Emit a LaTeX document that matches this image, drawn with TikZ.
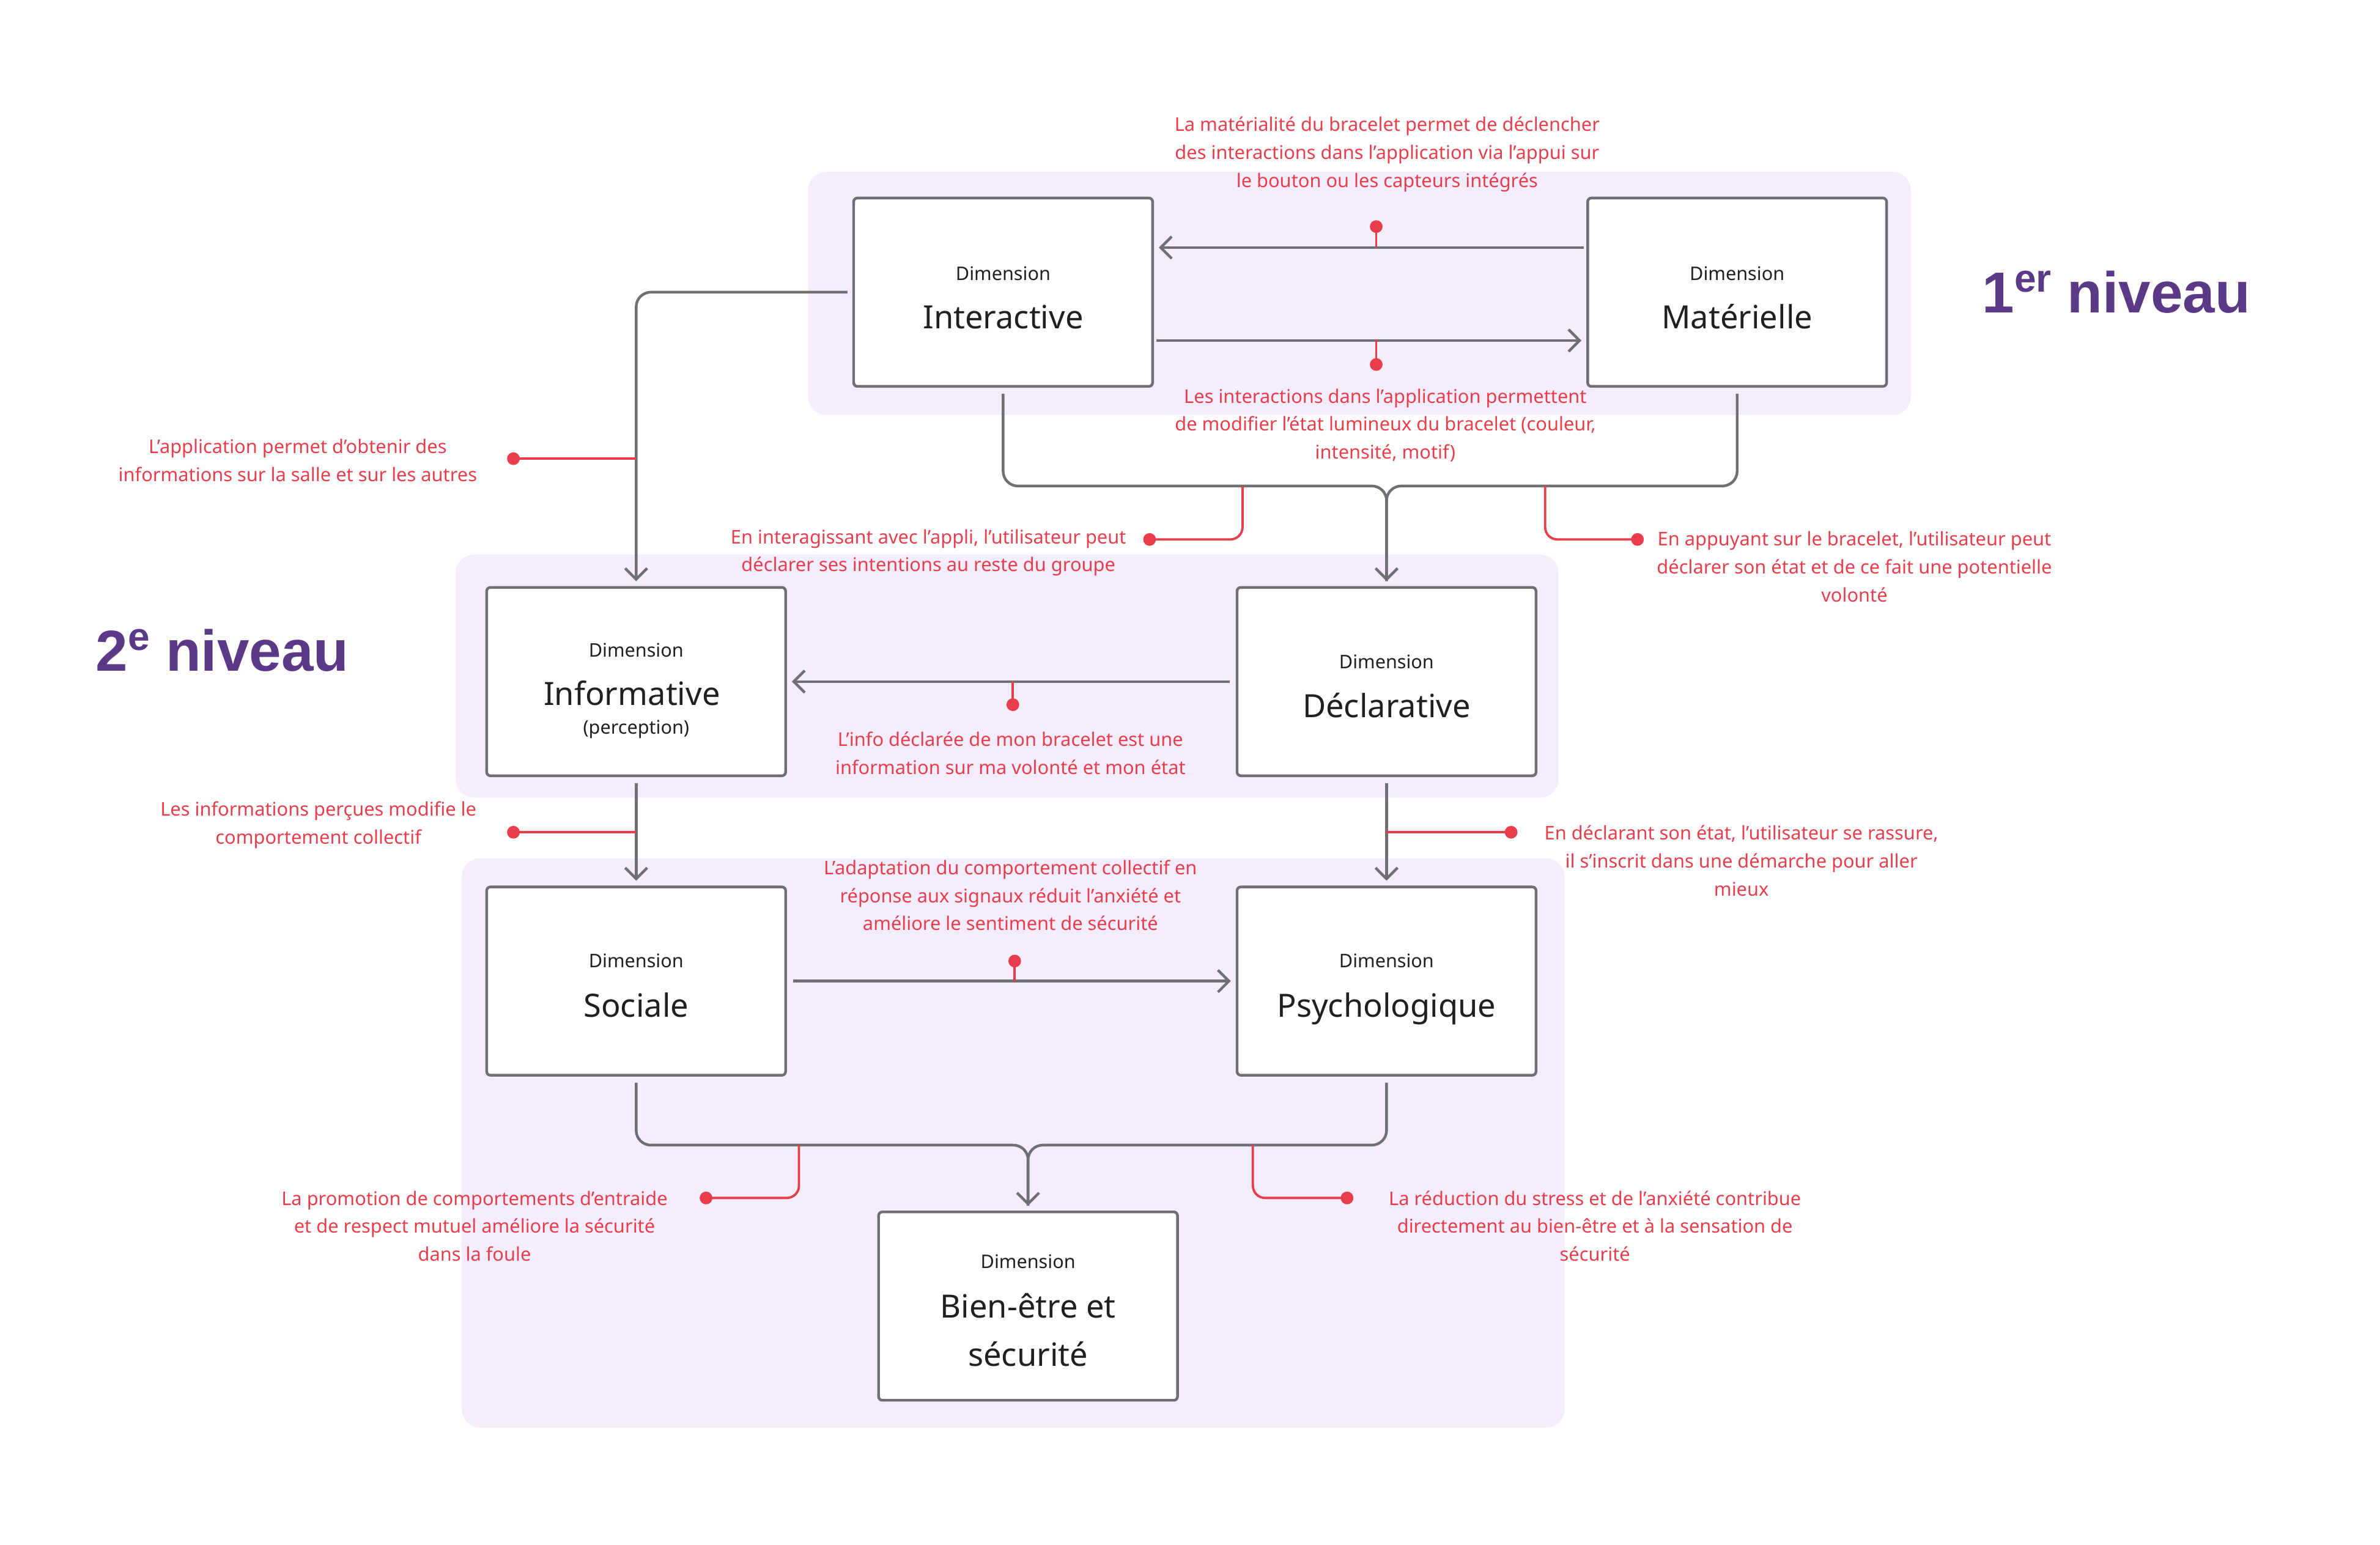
\documentclass[tikz,border=0pt]{standalone}
\usepackage{fontspec}
\setmainfont{Noto Sans}
\newfontfamily\headfont{Liberation Sans}
\usetikzlibrary{arrows.meta}
\definecolor{lav}{RGB}{243,237,253}
\definecolor{redc}{RGB}{232,62,76}
\definecolor{purp}{RGB}{90,58,134}
\definecolor{grayl}{RGB}{112,112,116}
\definecolor{txt}{RGB}{32,32,32}
\begin{document}
\begin{tikzpicture}[x=0.2484pt,y=-0.2484pt,
 region/.style={fill=lav, rounded corners=7.5pt},
 dimbox/.style={draw=grayl, line width=1.1pt, fill=white, rounded corners=1.5pt, minimum width=122.2pt, minimum height=77pt, inner sep=0pt},
 small/.style={font=\fontsize{7.65}{9}\selectfont, text=txt, inner sep=0pt, anchor=base},
 big/.style={font=\fontsize{13.1}{16}\selectfont, text=txt, inner sep=0pt, anchor=base},
 note/.style={font=\fontsize{7.7}{11.4}\selectfont, text=redc, align=center, inner sep=0pt},
 conn/.style={draw=grayl, line width=1.1pt, rounded corners=6pt},
 arr/.style={conn, -{Straight Barb[length=4.5pt,width=9pt,line width=1.1pt]}},
 redl/.style={draw=redc, line width=0.95pt, rounded corners=5pt},
 dot/.style={circle, fill=redc, inner sep=0pt, minimum size=5.2pt},
 level/.style={font=\headfont\bfseries\fontsize{23.6}{24}\selectfont, text=purp, inner sep=0pt, anchor=base},
]
\useasboundingbox (0pt,0pt) rectangle (973pt,-631.5pt);

% background regions
\fill[region] (1330,283) rectangle (3145,683);
\fill[region] (750,913) rectangle (2565,1313);
\fill[region] (760,1413) rectangle (2575,2350);

% boxes
\node[dimbox] (inter) at (1651,481) {};
\node[dimbox] (mat) at (2859,481) {};
\node[dimbox] (info) at (1047,1122) {};
\node[dimbox] (decl) at (2282,1122) {};
\node[dimbox] (soc) at (1047,1615) {};
\node[dimbox] (psy) at (2282,1615) {};
\node[dimbox] (bien) at (1692,2150) {};

% box texts
\node[small] (ta1) at (1651,461) {Dimension};
\node[big] (ta2) at (1651,541) {Interactive};
\node[small] (tb1) at (2859,461) {Dimension};
\node[big] (tb2) at (2859,541) {Matérielle};
\node[small] (tc1) at (1047,1081) {Dimension};
\node[big] (tc2) at (1040,1161) {Informative};
\node[small] (tc3) at (1047,1208) {(perception)};
\node[small] (td1) at (2282,1101) {Dimension};
\node[big] (td2) at (2282,1181) {Déclarative};
\node[small] (te1) at (1047,1593) {Dimension};
\node[big] (te2) at (1047,1674) {Sociale};
\node[small] (tf1) at (2282,1593) {Dimension};
\node[big] (tf2) at (2282,1674) {Psychologique};
\node[small] (tg1) at (1692,2088) {Dimension};
\node[big] (tg2) at (1692,2169) {Bien-être et};
\node[big] (tg3) at (1692,2249) {sécurité};

% level labels
\node[level] (lvl1) at (3483,515) {1\raisebox{8.5pt}{\fontsize{16}{16}\selectfont er} niveau};
\node[level] (lvl2) at (366,1105) {2\raisebox{8.5pt}{\fontsize{16}{16}\selectfont e} niveau};

% junctions
\coordinate (j1) at (2282,800);
\coordinate (j2) at (1692,1885);

% gray connectors
\draw[arr, shorten <=1pt, shorten >=2pt] ([yshift=18.25pt]mat.west) -- ([yshift=18.25pt]inter.east);
\draw[arr, shorten <=1pt, shorten >=2pt] ([yshift=-19.75pt]inter.east) -- ([yshift=-19.75pt]mat.west);
\draw[arr, shorten <=2pt, shorten >=2pt] (inter.west) -| (info.north);
\draw[arr, shorten <=2.5pt, shorten >=2pt] (inter.south) |- (j1) -- (decl.north);
\draw[conn, shorten <=2.5pt, shorten >=2pt] (mat.south) |- (j1) -- (decl.north);
\draw[arr, shorten <=2.5pt, shorten >=2pt] (decl.west) -- (info.east);
\draw[arr, shorten <=2.5pt, shorten >=2pt] (info.south) -- (soc.north);
\draw[arr, shorten <=2.5pt, shorten >=2pt] (decl.south) -- (psy.north);
\draw[arr, shorten <=2.5pt, shorten >=2pt] (soc.east) -- (psy.west);
\draw[arr, shorten <=2.5pt, shorten >=2pt] (soc.south) |- (j2) -- (bien.north);
\draw[conn, shorten <=2.5pt, shorten >=2pt] (psy.south) |- (j2) -- (bien.north);

% red annotation dots
\node[dot] (d1) at (2265,373) {};
\node[dot] (d2) at (2265,600) {};
\node[dot] (d3) at (845,755) {};
\node[dot] (d4) at (1892,888) {};
\node[dot] (d5) at (2695,888) {};
\node[dot] (d6) at (1667,1160) {};
\node[dot] (d7) at (845,1370) {};
\node[dot] (d8) at (2487,1370) {};
\node[dot] (d9) at (1670,1582) {};
\node[dot] (d10) at (1162,1972) {};
\node[dot] (d11) at (2217,1972) {};
\coordinate (r4) at (2045,800);
\coordinate (r5) at (2543,800);
\coordinate (r10) at (1315,1885);
\coordinate (r11) at (2062,1885);

% red lines
\draw[redl] (d1.center) -- ++(0,35);
\draw[redl] (d2.center) -- ++(0,-40);
\draw[redl] (d3.center) -- (d3 -| info.north);
\draw[redl] (r4) |- (d4.center);
\draw[redl] (r5) |- (d5.center);
\draw[redl] (d6.center) -- ++(0,-38);
\draw[redl] (d7.center) -- (d7 -| info.south);
\draw[redl] (d8.center) -- (d8 -| decl.south);
\draw[redl] (d9.center) -- ++(0,33);
\draw[redl] (r10) |- (d10.center);
\draw[redl] (r11) |- (d11.center);

% red notes
\node[note] (n1) at (2283,254) {La matérialité du bracelet permet de déclencher\\des interactions dans l'application via l'appui sur\\le bouton ou les capteurs intégrés};
\node[note] (n2) at (2280,700) {Les interactions dans l'application permettent\\de modifier l'état lumineux du bracelet (couleur,\\intensité, motif)};
\node[note] (n3) at (490,758) {L’application permet d’obtenir des\\informations sur la salle et sur les autres};
\node[note] (n4) at (1528,910) {En interagissant avec l’appli, l’utilisateur peut\\déclarer ses intentions au reste du groupe};
\node[note] (n5) at (3052,933) {En appuyant sur le bracelet, l’utilisateur peut\\déclarer son état et de ce fait une potentielle\\volonté};
\node[note] (n6) at (1663,1240) {L’info déclarée de mon bracelet est une\\information sur ma volonté et mon état};
\node[note] (n7) at (524,1358) {Les informations perçues modifie le\\comportement collectif};
\node[note] (n8) at (2866,1417) {En déclarant son état, l’utilisateur se rassure,\\il s’inscrit dans une démarche pour aller\\mieux};
\node[note] (n9) at (1663,1474) {L'adaptation du comportement collectif en\\réponse aux signaux réduit l'anxiété et\\améliore le sentiment de sécurité};
\node[note] (n10) at (781,2018) {La promotion de comportements d'entraide\\et de respect mutuel améliore la sécurité\\dans la foule};
\node[note] (n11) at (2625,2018) {La réduction du stress et de l'anxiété contribue\\directement au bien-être et à la sensation de\\sécurité};
\end{tikzpicture}
\end{document}
